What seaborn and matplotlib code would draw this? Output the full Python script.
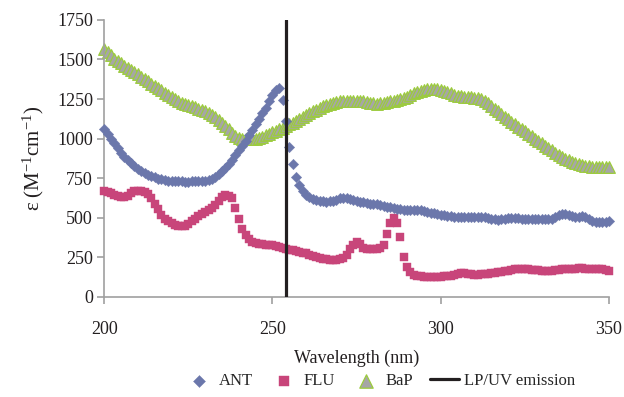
import matplotlib
matplotlib.use("Agg")
import matplotlib.pyplot as plt
import numpy as np
import pandas as pd
import seaborn as sns

# wavelength grid, 1 nm steps (200-350 nm)
wavelength = np.arange(200, 351)

ant = [
    1060, 1030, 1000, 970, 940, 910, 885, 862, 843, 825,
    810, 797, 785, 773, 763, 755, 748, 743, 738, 735,
    733, 731, 730, 730, 729, 729, 730, 730, 731, 733,
    735, 740, 748, 760, 775, 793, 815, 838, 865, 895,
    925, 955, 985, 1020, 1055, 1090, 1125, 1160, 1195, 1235,
    1275, 1310, 1320, 1245, 1110, 950, 840, 760, 705, 668,
    645, 630, 618, 610, 605, 603, 602, 603, 607, 615,
    625, 628, 625, 618, 610, 605, 600, 597, 593, 590,
    588, 585, 580, 575, 570, 566, 562, 558, 555, 552,
    550, 550, 551, 552, 550, 545, 538, 532, 528, 524,
    520, 516, 513, 510, 508, 507, 507, 506, 506, 506,
    507, 507, 506, 504, 500, 495, 490, 487, 490, 495,
    497, 498, 498, 497, 495, 493, 492, 492, 492, 491,
    490, 490, 492, 495, 505, 515, 522, 525, 520, 512,
    507, 508, 510, 505, 490, 480, 475, 474, 474, 476,
    478,
]

flu = [
    670, 665, 655, 645, 635, 630, 632, 640, 655, 668,
    672, 670, 662, 650, 625, 590, 555, 520, 495, 478,
    465, 455, 448, 445, 448, 460, 478, 495, 510, 522,
    535, 548, 562, 580, 605, 630, 645, 640, 625, 560,
    490, 430, 390, 365, 350, 342, 337, 333, 330, 328,
    325, 320, 313, 308, 303, 298, 295, 290, 285, 280,
    275, 268, 260, 252, 246, 242, 238, 235, 233, 234,
    238, 248, 265, 300, 330, 345, 335, 310, 300, 300,
    302, 305, 310, 325, 400, 470, 500, 470, 380, 255,
    192, 158, 140, 133, 130, 128, 127, 127, 127, 128,
    128, 130, 132, 135, 140, 145, 150, 150, 147, 143,
    140, 140, 142, 145, 148, 150, 152, 155, 158, 162,
    167, 172, 175, 176, 176, 175, 174, 172, 170, 168,
    166, 165, 165, 167, 170, 172, 174, 175, 176, 177,
    178, 180, 180, 179, 178, 177, 176, 175, 174, 170,
    165,
]

bap = [
    1565, 1545, 1525, 1505, 1490, 1475, 1460, 1448, 1435, 1420,
    1405, 1392, 1378, 1362, 1348, 1332, 1318, 1304, 1290, 1275,
    1260, 1248, 1238, 1228, 1220, 1212, 1205, 1198, 1190, 1182,
    1172, 1162, 1150, 1135, 1118, 1100, 1080, 1058, 1036, 1018,
    1005, 1000, 998, 997, 998, 1000, 1005, 1012, 1020, 1030,
    1040, 1050, 1060, 1070, 1080, 1090, 1100, 1110, 1122, 1135,
    1148, 1160, 1172, 1183, 1193, 1203, 1212, 1220, 1228, 1233,
    1237, 1240, 1240, 1240, 1240, 1240, 1238, 1235, 1230, 1225,
    1222, 1220, 1222, 1225, 1230, 1235, 1240, 1245, 1250, 1258,
    1265, 1275, 1285, 1295, 1302, 1308, 1312, 1315, 1315, 1312,
    1307, 1300, 1292, 1285, 1278, 1272, 1268, 1265, 1262, 1260,
    1258, 1255, 1250, 1240, 1225, 1208, 1190, 1172, 1155, 1138,
    1122, 1106, 1090, 1075, 1060, 1045, 1030, 1015, 1000, 985,
    970, 955, 940, 925, 910, 897, 884, 872, 862, 852,
    845, 838, 832, 828, 825, 823, 822, 822, 822, 821,
    820,
]

lp_uv_nm = 254
x_ticks = [200, 250, 300, 350]
y_ticks = [0, 250, 500, 750, 1000, 1250, 1500, 1750]

df = pd.DataFrame({"wavelength": wavelength, "ANT": ant, "FLU": flu, "BaP": bap})

sns.set_style("ticks")
plt.rcParams["font.family"] = ["Liberation Serif", "DejaVu Serif"]
plt.rcParams["mathtext.fontset"] = "custom"
plt.rcParams["mathtext.rm"] = "Liberation Serif"
plt.rcParams["mathtext.it"] = "Liberation Serif:italic"

fig = plt.figure(figsize=(6.24, 3.97), dpi=100)
ax = fig.add_axes([0.167, 0.252, 0.809, 0.698])

sns.scatterplot(data=df, x="wavelength", y="BaP", marker="^", s=70,
                color="#a6a6a6", edgecolor="#9ccc3c", linewidth=0.9,
                label="BaP", ax=ax, clip_on=False, zorder=2)
sns.scatterplot(data=df, x="wavelength", y="FLU", marker="s", s=38,
                color="#c8457a", edgecolor="#c8457a", linewidth=0.3,
                label="FLU", ax=ax, clip_on=False, zorder=3)
sns.scatterplot(data=df, x="wavelength", y="ANT", marker="D", s=28,
                color="#6b77ab", edgecolor="#6b77ab", linewidth=0.3,
                label="ANT", ax=ax, clip_on=False, zorder=4)
ax.axvline(lp_uv_nm, color="#231f20", lw=2.3, label="LP/UV emission", zorder=5)

ax.set_xlim(200, 350)
ax.set_ylim(0, 1750)
ax.set_xticks(x_ticks)
ax.set_yticks(y_ticks)
sns.despine(ax=ax)
for side in ["left", "bottom"]:
    ax.spines[side].set_color("#a0a0a0")
    ax.spines[side].set_linewidth(1.2)
ax.tick_params(axis="both", colors="#a0a0a0", labelcolor="#231f20",
               labelsize=13, length=5, width=1.2)
ax.tick_params(axis="x", pad=12)
ax.tick_params(axis="y", pad=3)

ax.set_xlabel("Wavelength (nm)", fontsize=13, color="#231f20", labelpad=9)
ax.set_ylabel(r"ε (M$^{\mathregular{-1}}$cm$^{\mathregular{-1}}$)",
              fontsize=15, color="#231f20", labelpad=8)

handles, labels = ax.get_legend_handles_labels()
order = [labels.index(k) for k in ["ANT", "FLU", "BaP", "LP/UV emission"]]
ax.legend_.remove()
fig.legend([handles[i] for i in order], [labels[i] for i in order],
           loc="center", bbox_to_anchor=(0.609, 0.04), ncol=4, frameon=False,
           fontsize=12, handlelength=1.7, handletextpad=0.35,
           columnspacing=1.0, markerscale=1.15)

fig.savefig("out.png", dpi=100)
